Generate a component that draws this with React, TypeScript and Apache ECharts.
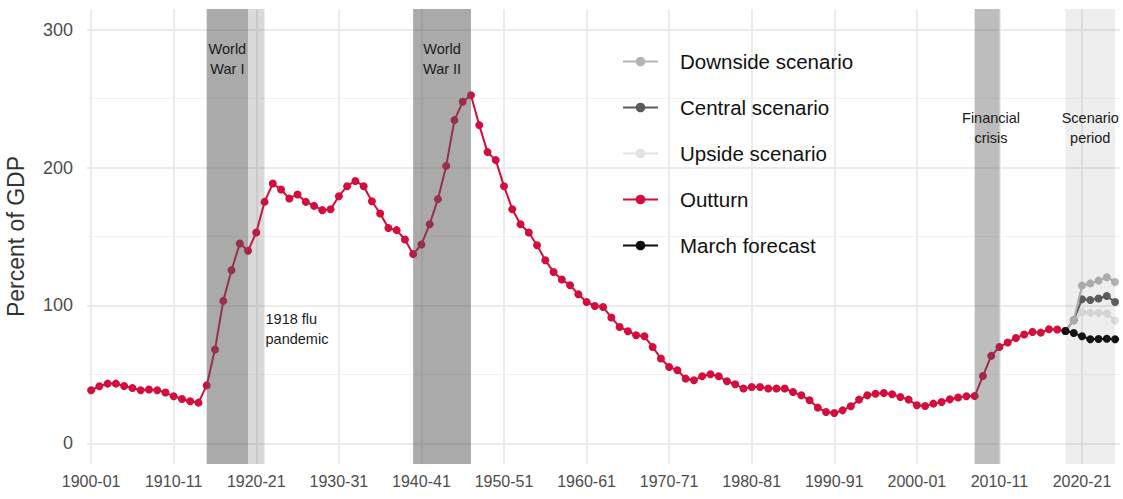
import React, { useEffect, useRef } from "react";
import * as echarts from "echarts";

const outturnStart = 1900;
const outturn = [
  38.5, 41.4, 43.3, 43.3, 41.6, 40.1, 38.5, 39, 38.5, 36.8,
  34.1, 32.2, 30.5, 29.5, 42, 68, 103.3, 125.5, 144.9, 139.6,
  152.9, 175.1, 188.4, 184.1, 177.6, 180.5, 175.1, 172.2, 169.1, 169.8,
  179.2, 186.5, 190.3, 186.5, 175.6, 166.7, 156.2, 154.6, 147.8, 137.2,
  144.2, 158.9, 177.1, 201.2, 234.4, 247.7, 252.5, 230.8, 211.2, 205.4,
  186.5, 169.8, 158.9, 152.9, 143.7, 132.8, 124.3, 118.8, 114.7, 108.1,
  102.5, 99.6, 98.9, 91.2, 84.4, 81.3, 78.4, 77.6, 69.9, 61.5,
  55.4, 53, 46.9, 45.7, 48.6, 50.1, 48.6, 45, 42.8, 39.7,
  40.9, 40.9, 39.7, 39.7, 39.7, 37.2, 34.8, 31.2, 25.9, 22.7,
  22, 23.9, 26.9, 31.7, 34.8, 36, 36.5, 35.6, 33.6, 31.7,
  27.6, 27.1, 28.8, 30, 31.9, 33.2, 34.1, 34.3, 48.8, 63.4,
  69.9, 73.1, 76.4, 78.9, 80.8, 80.3, 82.7, 82.5, 81.5,
];

const forecastYears = [2018, 2019, 2020, 2021, 2022, 2023, 2024];
const marchForecast = [81.5, 80, 77.6, 75.5, 75.7, 75.8, 75.5];
const downside = [81.5, 89.3, 114.5, 116, 118, 120.5, 117];
const central = [81.5, 89.3, 104.5, 104, 105, 106.8, 102.5];
const upside = [81.5, 89.3, 95, 94.6, 94.6, 94.1, 89];

const xTicks = [1900, 1910, 1920, 1930, 1940, 1950, 1960, 1970, 1980, 1990, 2000, 2010, 2020];
const yTicks = [0, 100, 200, 300];
const yMinor = [50, 150, 250];

const events = [
  { label: "World\nWar I", start: 1914, end: 1919 },
  { label: "1918 flu\npandemic", start: 1919, end: 1921 },
  { label: "World\nWar II", start: 1939, end: 1946 },
  { label: "Financial\ncrisis", start: 2007, end: 2010 },
  { label: "Scenario\nperiod", start: 2018, end: 2024 },
];

const legendNames = [
  "Downside scenario",
  "Central scenario",
  "Upside scenario",
  "Outturn",
  "March forecast",
];

const FONT = "'Liberation Sans', Arial, sans-serif";

export default function App() {
  const ref = useRef<HTMLDivElement>(null);

  useEffect(() => {
    if (!ref.current) return;
    const chart = echarts.init(ref.current, undefined, { renderer: "svg" });

    const pairs = (xs: number[], ys: number[]) => ys.map((v, i) => [xs[i], v]);
    const outturnData = outturn.map((v, i) => [outturnStart + i, v]);

    const bandStyles = [
      { color: "rgba(85,85,85,0.5)", label: { position: "insideTop", distance: 30 } },
      { color: "rgba(85,85,85,0.22)", label: { position: "right", distance: 1, offset: [0, 92], align: "left" } },
      { color: "rgba(85,85,85,0.5)", label: { position: "insideTop", distance: 30 } },
      { color: "rgba(85,85,85,0.39)", label: { position: "insideTop", distance: 99, offset: [4, 0] } },
      { color: "rgba(85,85,85,0.1)", label: { position: "insideTop", distance: 99 } },
    ];

    const lineSeries = (name: string, data: any[], color: string, z: number) => ({
      name,
      type: "line",
      data,
      z,
      symbol: "circle",
      symbolSize: 8,
      showSymbol: true,
      lineStyle: { color, width: 2 },
      itemStyle: { color },
      emphasis: { disabled: true },
    });

    const option: any = {
      animation: false,
      textStyle: { fontFamily: FONT },
      grid: { left: 87, right: 3, top: 9, bottom: 35, containLabel: false, outerBoundsMode: "none" },
      legend: {
        data: legendNames,
        orient: "vertical",
        left: 617,
        top: 46,
        itemWidth: 35,
        itemHeight: 12,
        itemGap: 25,
        textStyle: { fontSize: 20.5, color: "#111", padding: [0, 0, 0, 17], lineHeight: 20, fontFamily: FONT },
        selectedMode: false,
      },
      xAxis: {
        type: "value",
        min: 1899.5,
        max: 2024.6,
        axisLine: { show: false },
        axisTick: { show: false, customValues: xTicks },
        axisLabel: {
          customValues: xTicks,
          fontSize: 16,
          color: "#4d4d4d",
          margin: 9,
          fontFamily: FONT,
          formatter: (v: number) => `${v}-${String((v + 1) % 100).padStart(2, "0")}`,
        },
        splitLine: { show: true, lineStyle: { color: "#ebebeb", width: 2 } },
      },
      yAxis: {
        type: "value",
        min: -15,
        max: 315,
        name: "Percent of GDP",
        nameLocation: "middle",
        nameGap: 60,
        nameTextStyle: { fontSize: 23, color: "#333", fontFamily: FONT },
        axisLine: { show: false },
        axisTick: { show: false, customValues: yTicks },
        axisLabel: { customValues: yTicks, fontSize: 18, color: "#4d4d4d", margin: 14, fontFamily: FONT },
        splitLine: { show: true, lineStyle: { color: "#ebebeb", width: 2 } },
      },
      series: [
        {
          type: "line",
          data: [],
          silent: true,
          markLine: {
            z: 1,
            silent: true,
            symbol: ["none", "none"],
            label: { show: false },
            lineStyle: { color: "#f2f2f2", width: 1, type: "solid" },
            emphasis: { disabled: true },
            data: yMinor.map((v) => ({ yAxis: v })),
          },
        },
        lineSeries("Upside scenario", pairs(forecastYears, upside), "#e3e3e3", 3),
        lineSeries("Central scenario", pairs(forecastYears, central), "#5c5c5c", 4),
        lineSeries("Downside scenario", pairs(forecastYears, downside), "#b5b5b5", 5),
        lineSeries("Outturn", outturnData, "#d40d3d", 6),
        lineSeries("March forecast", pairs(forecastYears, marchForecast), "#0d0d0d", 7),
        {
          type: "line",
          data: [],
          silent: true,
          markArea: {
            z: 10,
            silent: true,
            emphasis: { disabled: true },
            data: events.map((e, i) => [
              {
                xAxis: e.start,
                itemStyle: { color: bandStyles[i].color },
                label: {
                  show: true,
                  formatter: e.label,
                  fontSize: 14.5,
                  lineHeight: 20,
                  color: "#1a1a1a",
                  fontFamily: FONT,
                  ...bandStyles[i].label,
                },
              },
              { xAxis: e.end },
            ]),
          },
        },
      ],
    };

    chart.setOption(option);
    return () => chart.dispose();
  }, []);

  return (
    <div
      ref={ref}
      style={{ position: "fixed", left: 0, top: 0, width: 1123, height: 499, background: "#fff" }}
    />
  );
}
